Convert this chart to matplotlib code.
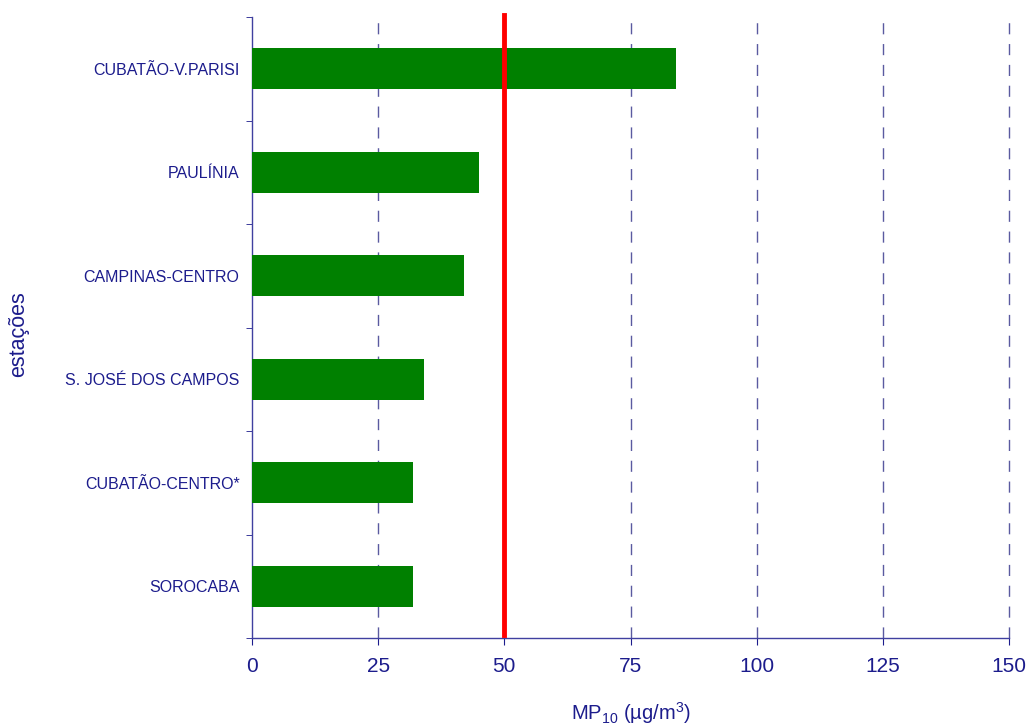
import matplotlib
matplotlib.use("Agg")
import matplotlib.pyplot as plt

stations = ["CUBATÃO-V.PARISI", "PAULÍNIA", "CAMPINAS-CENTRO",
            "S. JOSÉ DOS CAMPOS", "CUBATÃO-CENTRO*", "SOROCABA"]
values = [84, 45, 42, 34, 32, 32]
limit_value = 50
xticks = [0, 25, 50, 75, 100, 125, 150]

navy = "#1c1c8c"
plt.rcParams['font.family'] = ['Liberation Sans', 'DejaVu Sans']
plt.rcParams['mathtext.fontset'] = 'custom'
plt.rcParams['mathtext.rm'] = 'Liberation Sans'
plt.rcParams['mathtext.it'] = 'Liberation Sans'
plt.rcParams['mathtext.default'] = 'regular'

fig = plt.figure(figsize=(10.29, 7.26), dpi=100)
ax = fig.add_axes([252/1029, 1-638/726, (1009-252)/1029, (638-17)/726])

n = len(stations)
ypos = [n - 1 - i for i in range(n)]
ax.barh(ypos, values, height=0.4, color="#008000", zorder=3)
ax.axvline(limit_value, ymin=0.005, ymax=1.003, color="#ff0000", lw=3.5,
           zorder=4, clip_on=False)

ax.set_xlim(0, 150)
ax.set_ylim(-0.5, n - 0.5)
ax.set_xticks(xticks)
ax.set_xticklabels([str(t) for t in xticks], fontsize=15, color=navy)
ax.set_yticks(ypos)
ax.set_yticklabels(stations, fontsize=11.5, color=navy)
ax.tick_params(axis='y', length=0, pad=9)
ax.set_yticks([i - 0.5 for i in range(n + 1)], minor=True)
ax.tick_params(axis='y', which='minor', length=4, color=navy, direction='out')
ax.tick_params(axis='x', length=5, color=navy, direction='out', pad=9)

for t in xticks[1:]:
    ax.axvline(t, color="#5a5aa0", lw=1, ls=(0, (8, 7)), zorder=1, clip_on=False)

for s in ['top', 'right']:
    ax.spines[s].set_visible(False)
for s in ['left', 'bottom']:
    ax.spines[s].set_color("#4040a0")
    ax.spines[s].set_linewidth(1)

ax.set_xlabel(r"MP$_{10}$ (µg/m$^{3}$)", fontsize=14.5, color=navy)
ax.set_ylabel("estações", fontsize=15.5, color=navy)
ax.xaxis.set_label_coords(0.5, -0.1)
ax.yaxis.set_label_coords(-0.295, 0.49)

fig.savefig("out.png", dpi=100, facecolor="white")
